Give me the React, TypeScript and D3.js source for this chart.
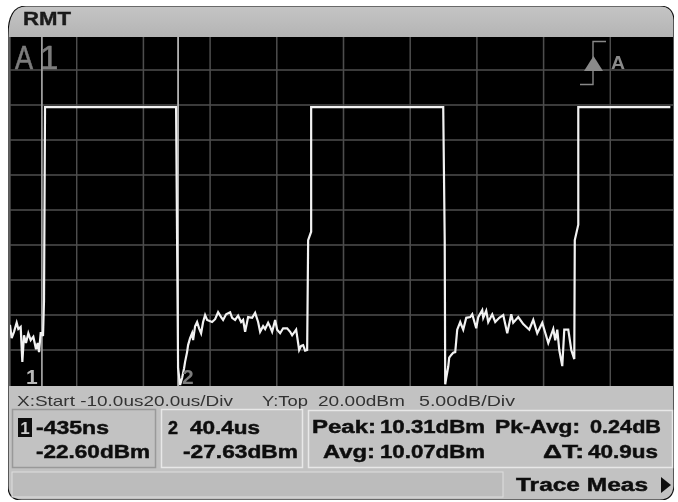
import React from "react";
import * as d3 from "d3";

const traceTimeUs = [
  -10,-9.5,-8.8,-8,-7.5,-6.8,-6.3,-5.8,-5.2,-4.5,-3.8,-3,-2.2,-1.7,-1.3,-0.8,-0.435,-0.1,0.2,0.5,
  10,20,30,39.8,40.1,40.4,41,41.6,42.2,42.5,43.1,43.4,44,44.6,44.9,45.5,46.1,46.7,47.3,47.9,48.5,49.1,
  50.6,51.5,52.4,53.3,53.9,54.8,56,56.6,57.5,58.4,59.3,59.9,60.5,61.4,62.6,63.5,64.4,65,65.9,66.5,67.4,68,68.6,
  69.5,70.1,71,71.9,73.1,74,74.6,75.8,76.7,77.3,77.9,78.5,79.1,79.4,80.3,80.3,
  90,100,110,119.9,120.35,120.5,120.8,121.4,121.7,122.3,122.9,123.5,124.1,125,125.9,126.8,128,128.6,129.8,130.4,
  131.6,131.9,132.8,133.4,134.6,135.5,136.7,137.9,139.1,140.3,140.9,142.4,143.9,145.7,146.9,148.1,149.6,151.4,
  152.9,153.5,154.1,154.7,155.6,156.2,157.4,158.3,159.2,159.35,160.4,160.4,170,180,188,
];
const traceDbm = [
  -21.4,-23.3,-22.4,-21.1,-22,-21.7,-26.7,-22.9,-24,-22.6,-23.6,-23.1,-24.9,-24,-25.3,-22.6,-22.6,-23,-17.9,9.7,
  9.7,9.7,9.7,9.7,-9.3,-27.6,-30,-29,-27.6,-26.7,-25.3,-24.3,-23.3,-22.6,-23.6,-21.6,-21,-21.9,-22.6,-21,-20,-20.7,
  -21,-20.6,-19.6,-20.3,-20.7,-19.9,-19.6,-20.4,-20.7,-20.1,-21,-20.7,-22.4,-20.3,-20.4,-19.7,-21,-22.4,-21.6,-22,-21.1,-21.7,-22.4,
  -20.7,-22.1,-22.6,-21.9,-21.9,-22.4,-22.9,-22.1,-25,-24.4,-24.3,-25.1,-25,-9.3,-8.1,9.7,
  9.7,9.7,9.7,9.7,-9.3,-29.9,-29,-27.4,-26.1,-25.7,-25.4,-25.3,-22.1,-21,-22.1,-20.4,-20.3,-19.9,-21.9,-20.3,
  -19.3,-20.4,-19.4,-21,-19.9,-21,-20.4,-20,-22.6,-19.9,-21.1,-20.3,-21.3,-22.1,-20.7,-22.6,-21.1,-24,
  -22,-23.6,-22.1,-25,-27.3,-22.1,-22.1,-25,-26.3,-9.3,-7.1,9.7,9.7,9.7,9.7,
];
const markerTimes = [-0.435, 40.4];
const markerLabels = ["1", "2"];
const timeGrid = [-10, 10, 30, 50, 70, 90, 110, 130, 150, 170];
const dbmGrid = [15, 10, 5, 0, -5, -10, -15, -20, -25];

const FONT = "'Liberation Sans', Arial, sans-serif";
const x = d3.scaleLinear().domain([-10, 190]).range([10, 677]);
const y = d3.scaleLinear().domain([20, -30]).range([35, 385]);
const pts: [number, number][] = traceTimeUs.map((t, i) => [t, traceDbm[i]]);
const line = d3.line<[number, number]>().x((d) => x(d[0])).y((d) => y(d[1]));

function B({ x0, x1, base, s }: { x0: number; x1: number; base: number; s: string }) {
  return (
    <text x={x0} y={base} textLength={x1 - x0} lengthAdjust="spacingAndGlyphs" fontFamily={FONT} fontWeight={700}
      fontSize={17.5} fill="#111" stroke="#111" strokeWidth={0.45}>{s}</text>
  );
}
function S({ x0, x1, s }: { x0: number; x1: number; s: string }) {
  return (
    <text x={x0} y={406} textLength={x1 - x0} lengthAdjust="spacingAndGlyphs" fontFamily={FONT}
      fontSize={15} fill="#333">{s}</text>
  );
}

export default function App() {
  return (
    <svg width={678} height={502} style={{ position: "absolute", left: 0, top: 0, background: "#fff" }}>
      <defs>
        <filter id="soft" x="0" y="0" width="100%" height="100%">
          <feGaussianBlur stdDeviation="0.55" />
        </filter>
        <clipPath id="plot"><rect x={10} y={37} width={663} height={349} /></clipPath>
        <linearGradient id="head" x1="0" x2="0" y1="0" y2="1">
          <stop offset="0" stopColor="#c4c4c4" />
          <stop offset="1" stopColor="#b4b4b4" />
        </linearGradient>
      </defs>
      <g filter="url(#soft)">
        <path
          d="M8,36 Q8,6 26,6 L660,6 Q673,6 674,20 L674,486 Q673,500 660,500 L22,500 Q8,500 8,486 Z"
          fill="#c2c2c2" stroke="#111" strokeWidth={1.2}
        />
        <path d="M9,36 Q9,7 26,7 L660,7 Q672,7 673,20 L673,37 L9,37 Z" fill="url(#head)" />
        <text x={23} y={25} textLength={48} lengthAdjust="spacingAndGlyphs" fontFamily={FONT} fontWeight={700}
          fontSize={19} fill="#1a1a1a" stroke="#1a1a1a" strokeWidth={0.4}>RMT</text>

        <rect x={9.5} y={37} width={663.5} height={349} fill="#000" />
        <g clipPath="url(#plot)" stroke="#4e4e4e" strokeWidth={1.5}>
          {timeGrid.map((t) => <line key={t} x1={x(t)} x2={x(t)} y1={37} y2={386} />)}
          {dbmGrid.map((d) => <line key={d} x1={10} x2={673} y1={y(d)} y2={y(d)} />)}
        </g>
        <text x={15} y={69} textLength={18} lengthAdjust="spacingAndGlyphs" fontFamily={FONT} fontSize={33} fill="#7c7c7c" stroke="#7c7c7c" strokeWidth={0.6}>A</text>
        <text x={40} y={69} fontFamily={FONT} fontSize={33} fill="#7c7c7c" stroke="#7c7c7c" strokeWidth={0.6}>1</text>

        <g clipPath="url(#plot)">
          {markerTimes.map((t, i) => (
            <line key={t} x1={x(t)} x2={x(t)} y1={37} y2={386} stroke={i === 0 ? "#9c9c9c" : "#b4b4b4"} strokeWidth={1.8} />
          ))}
          <path d={line(pts) ?? ""} fill="none" stroke="#f2f2f2" strokeWidth={2.2} strokeLinejoin="miter" />
        </g>
        {markerTimes.map((t, i) => (
          <text key={t} x={i === 0 ? 26 : 182} y={384} fontFamily={FONT} fontWeight={700}
            fontSize={21} fill={i === 0 ? "#b8b8b8" : "#7c7c7c"}>{markerLabels[i]}</text>
        ))}

        <path d="M606,41.5 H593 V84.5 H580" fill="none" stroke="#888" strokeWidth={1.4} />
        <path d="M584,71 L593.5,56 L603,71 Z" fill="#8a8a8a" />
        <text x={611} y={69} textLength={14} lengthAdjust="spacingAndGlyphs" fontFamily={FONT} fontWeight={700} fontSize={18} fill="#8a8a8a">A</text>

        <S x0={17} x1={233} s="X:Start -10.0us20.0us/Div" />
        <S x0={262} x1={308} s="Y:Top" />
        <S x0={318} x1={405} s="20.00dBm" />
        <S x0={419} x1={515} s="5.00dB/Div" />

        <rect x={12.5} y={409.5} width={143} height={58} fill="#c2c2c2" stroke="#999" strokeWidth={1.5} />
        <rect x={161.5} y={409.5} width={141} height={58} fill="#c2c2c2" stroke="#e8e8e8" strokeWidth={1.5} />
        <rect x={308.5} y={410.5} width={364} height={57} fill="#c2c2c2" stroke="#e8e8e8" strokeWidth={1.5} />
        <rect x={12} y={472} width={491} height={25} fill="#bcbcbc" stroke="#dedede" strokeWidth={1} />

        <rect x={18} y={418} width={14} height={19} fill="#111" />
        <text x={25} y={434} textAnchor="middle" fontFamily={FONT} fontWeight={700} fontSize={17} fill="#ccc">1</text>
        <B x0={36} x1={109} base={434} s="-435ns" />
        <B x0={36} x1={150} base={458} s="-22.60dBm" />
        <B x0={168} x1={178} base={434} s="2" />
        <B x0={190} x1={260} base={434} s="40.4us" />
        <B x0={183} x1={298} base={458} s="-27.63dBm" />

        <B x0={312} x1={376} base={433} s="Peak:" />
        <B x0={380} x1={485} base={433} s="10.31dBm" />
        <B x0={495} x1={580} base={433} s="Pk-Avg:" />
        <B x0={590} x1={661} base={433} s="0.24dB" />
        <B x0={323} x1={375} base={458} s="Avg:" />
        <B x0={380} x1={485} base={458} s="10.07dBm" />
        <B x0={543} x1={584} base={458} s="ΔT:" />
        <B x0={588} x1={658} base={458} s="40.9us" />

        <B x0={516} x1={648} base={491} s="Trace Meas" />
        <path d="M661,477 L671,485 L661,493 Z" fill="#111" />
      </g>
    </svg>
  );
}
